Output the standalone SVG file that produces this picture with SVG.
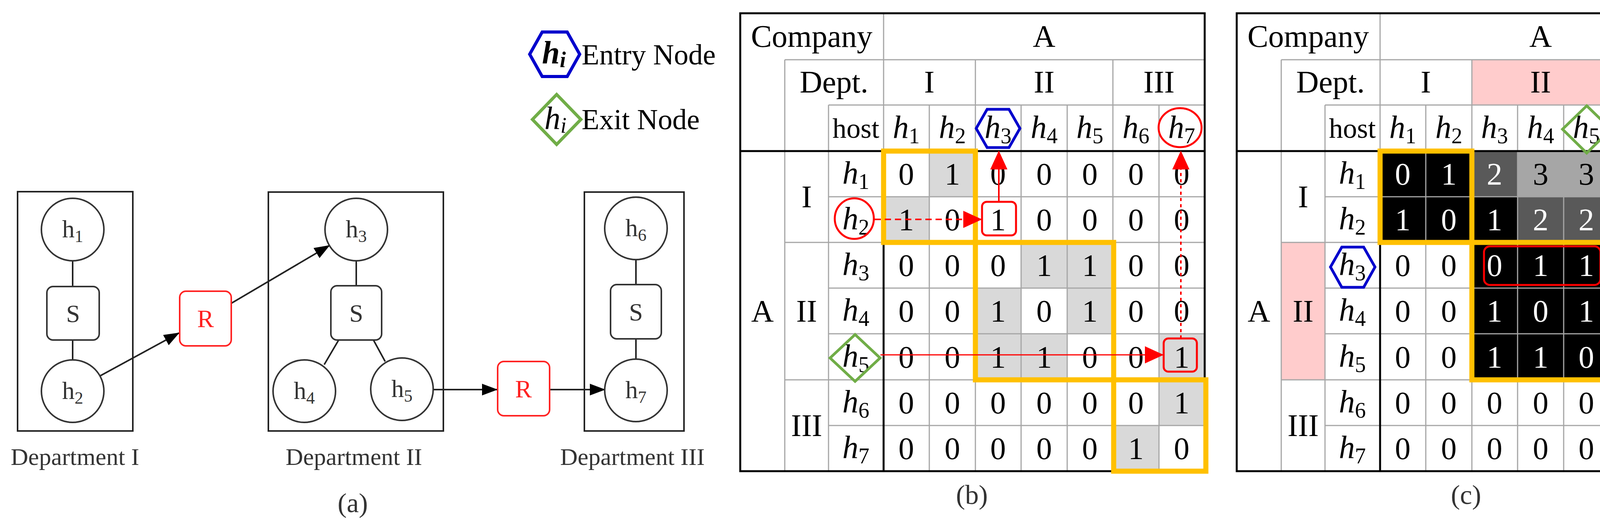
<svg xmlns="http://www.w3.org/2000/svg" width="4392" height="1350" viewBox="0 0 4392 1350">
<style>
text{font-family:"Liberation Serif","DejaVu Serif",serif;fill:#000}
.a{stroke:#333;stroke-width:4;fill:#fff}
.al{stroke:#222;stroke-width:4;fill:none}
.r{stroke:#f22;stroke-width:4;fill:#fff}
.lbl{font-size:62px;text-anchor:middle;fill:#333}
.in{font-size:64px;text-anchor:middle;fill:#333}
.sub{font-size:44px}
.g{stroke:#a6a6a6;stroke-width:3;fill:none}
.k{stroke:#000;stroke-width:5;fill:none}
.t{font-size:80px;text-anchor:middle}
.h{font-size:82px;text-anchor:middle}
.hs{font-size:56px;font-style:normal}
.n{font-size:80px;text-anchor:middle}
.w{fill:#fff}
.o{stroke:#FFC000;stroke-width:13;fill:none}
.red{stroke:#f00;stroke-width:5;fill:none}
.hex{stroke:#0000cc;stroke-width:7;fill:none}
.dia{stroke:#70ad47;stroke-width:7;fill:none}
.cap{font-size:70px;text-anchor:middle;fill:#333}
</style>
<defs>
<marker id="ab" markerWidth="40" markerHeight="30" refX="38" refY="15" orient="auto" markerUnits="userSpaceOnUse"><path d="M0,0 L40,15 L0,30 Z" fill="#000"/></marker>
<marker id="ar" markerWidth="48" markerHeight="44" refX="46" refY="22" orient="auto" markerUnits="userSpaceOnUse"><path d="M0,0 L48,22 L0,44 Z" fill="#f00"/></marker>
</defs>

<!-- (a) -->
<g id="deptI"><rect x="45" y="491" width="295" height="613" class="al"/><text x="192" y="1191" class="lbl">Department I</text></g>
<g id="deptII"><rect x="687" y="492" width="448" height="612" class="al"/><text x="906" y="1191" class="lbl">Department II</text></g>
<g id="deptIII"><rect x="1496" y="492" width="255" height="612" class="al"/><text x="1619" y="1191" class="lbl">Department III</text></g>
<g id="conn-a">
<line x1="186" y1="668" x2="186" y2="734" class="al"/>
<line x1="186" y1="871" x2="186" y2="922" class="al"/>
<line x1="912" y1="668" x2="912" y2="732" class="al"/>
<line x1="867" y1="871" x2="830" y2="934" class="al"/>
<line x1="956" y1="871" x2="986" y2="926" class="al"/>
<line x1="1628" y1="665" x2="1628" y2="729" class="al"/>
<line x1="1628" y1="868" x2="1628" y2="920" class="al"/>
<line x1="256" y1="963" x2="458" y2="853" class="al" marker-end="url(#ab)"/>
<line x1="592" y1="777" x2="843" y2="629" class="al" marker-end="url(#ab)"/>
<line x1="1109" y1="998" x2="1272" y2="998" class="al" marker-end="url(#ab)"/>
<line x1="1407" y1="998" x2="1548" y2="998" class="al" marker-end="url(#ab)"/>
</g>
<g id="h1a"><circle cx="186" cy="588" r="80" class="a"/><text x="186" y="608" class="in">h<tspan class="sub" dy="12">1</tspan></text></g>
<g id="s1"><rect x="120" y="734" width="134" height="137" rx="16" class="a"/><text x="187" y="825" class="in">S</text></g>
<g id="h2a"><circle cx="186" cy="1002" r="80" class="a"/><text x="186" y="1022" class="in">h<tspan class="sub" dy="12">2</tspan></text></g>
<g id="r1"><rect x="460" y="746" width="132" height="140" rx="16" class="r"/><text x="526" y="838" class="in" style="fill:#f22">R</text></g>
<g id="h3a"><circle cx="912" cy="588" r="80" class="a"/><text x="912" y="608" class="in">h<tspan class="sub" dy="12">3</tspan></text></g>
<g id="s2"><rect x="847" y="732" width="130" height="139" rx="16" class="a"/><text x="912" y="824" class="in">S</text></g>
<g id="h4a"><circle cx="779" cy="1002" r="80" class="a"/><text x="779" y="1022" class="in">h<tspan class="sub" dy="12">4</tspan></text></g>
<g id="h5a"><circle cx="1029" cy="997" r="80" class="a"/><text x="1029" y="1017" class="in">h<tspan class="sub" dy="12">5</tspan></text></g>
<g id="r2"><rect x="1274" y="926" width="133" height="139" rx="16" class="r"/><text x="1340" y="1018" class="in" style="fill:#f22">R</text></g>
<g id="h6a"><circle cx="1628" cy="585" r="80" class="a"/><text x="1628" y="605" class="in">h<tspan class="sub" dy="12">6</tspan></text></g>
<g id="s3"><rect x="1563" y="729" width="130" height="139" rx="16" class="a"/><text x="1628" y="821" class="in">S</text></g>
<g id="h7a"><circle cx="1628" cy="1000" r="80" class="a"/><text x="1628" y="1020" class="in">h<tspan class="sub" dy="12">7</tspan></text></g>
<text x="903" y="1312" class="cap">(a)</text>

<!-- legend -->
<g id="legend">
<polygon points="1356,139 1388,82 1452,82 1484,139 1452,196 1388,196" class="hex" style="stroke-width:8"/>
<text x="1418" y="162" class="h" style="font-weight:bold;font-style:italic">h<tspan class="hs" dy="10" style="font-style:italic">i</tspan></text>
<text x="1489" y="165" style="font-size:74px">Entry Node</text>
<polygon points="1363,306 1425,242 1487,306 1425,370" class="dia" style="stroke-width:8"/>
<text x="1422" y="330" class="h" style="font-style:italic">h<tspan class="hs" dy="10" style="font-style:italic">i</tspan></text>
<text x="1489" y="331" style="font-size:74px">Exit Node</text>
</g>

<!-- (b) table -->
<g id="tableB">
<g id="fillsB" fill="#d9d9d9">
<rect x="2379" y="387" width="118" height="117"/><rect x="2262" y="504" width="117" height="117"/>
<rect x="2614" y="621" width="118" height="117"/><rect x="2732" y="621" width="117" height="117"/>
<rect x="2497" y="738" width="117" height="117"/><rect x="2732" y="738" width="117" height="117"/>
<rect x="2497" y="855" width="117" height="118"/><rect x="2614" y="855" width="118" height="118"/>
<rect x="2967" y="855" width="117" height="118"/>
<rect x="2967" y="973" width="117" height="117"/><rect x="2849" y="1090" width="118" height="117"/>
</g>
<g id="gridB">
<path class="g" d="M2009,153H3084M2121,269H3084M2121,504H3084M2009,621H3084M2121,738H3084M2121,855H3084M2009,973H3084M2121,1090H3084M2009,153V1207M2121,269V1207M2262,34V387M2497,153V1207M2849,153V1207M2379,269V1207M2614,269V1207M2732,269V1207M2967,269V1207"/>
<path class="k" d="M1895,387H3084M2262,387V1207"/>
<rect x="1895" y="34" width="1189" height="1173" class="k"/>
</g>
<g id="headB">
<text x="2078" y="120" class="t">Company</text><text x="2673" y="120" class="t">A</text>
<text x="2135" y="237" class="t">Dept.</text><text x="2379" y="237" class="t">I</text><text x="2673" y="237" class="t">II</text><text x="2967" y="237" class="t">III</text>
<text x="2191" y="353" class="t" style="font-size:72px">host</text>
<g class="h" font-style="italic">
<text x="2320" y="353">h<tspan class="hs" dy="14">1</tspan></text><text x="2438" y="353">h<tspan class="hs" dy="14">2</tspan></text>
<text x="2555" y="353">h<tspan class="hs" dy="14">3</tspan></text><text x="2673" y="353">h<tspan class="hs" dy="14">4</tspan></text>
<text x="2790" y="353">h<tspan class="hs" dy="14">5</tspan></text><text x="2908" y="353">h<tspan class="hs" dy="14">6</tspan></text>
<text x="3025" y="353">h<tspan class="hs" dy="14">7</tspan></text>
</g>
<text x="1952" y="824" class="t">A</text>
<text x="2065" y="531" class="t">I</text><text x="2065" y="824" class="t">II</text><text x="2065" y="1117" class="t">III</text>
<g class="h" font-style="italic">
<text x="2191" y="470">h<tspan class="hs" dy="14">1</tspan></text><text x="2191" y="587">h<tspan class="hs" dy="14">2</tspan></text>
<text x="2191" y="704">h<tspan class="hs" dy="14">3</tspan></text><text x="2191" y="821">h<tspan class="hs" dy="14">4</tspan></text>
<text x="2191" y="939">h<tspan class="hs" dy="14">5</tspan></text><text x="2191" y="1056">h<tspan class="hs" dy="14">6</tspan></text>
<text x="2191" y="1173">h<tspan class="hs" dy="14">7</tspan></text>
</g>
</g>
<g id="valsB" class="n">
<text x="2320" y="473">0</text><text x="2438" y="473">1</text><text x="2555" y="473">0</text><text x="2673" y="473">0</text><text x="2790" y="473">0</text><text x="2908" y="473">0</text><text x="3025" y="473">0</text>
<text x="2320" y="590">1</text><text x="2438" y="590">0</text><text x="2555" y="590">1</text><text x="2673" y="590">0</text><text x="2790" y="590">0</text><text x="2908" y="590">0</text><text x="3025" y="590">0</text>
<text x="2320" y="707">0</text><text x="2438" y="707">0</text><text x="2555" y="707">0</text><text x="2673" y="707">1</text><text x="2790" y="707">1</text><text x="2908" y="707">0</text><text x="3025" y="707">0</text>
<text x="2320" y="824">0</text><text x="2438" y="824">0</text><text x="2555" y="824">1</text><text x="2673" y="824">0</text><text x="2790" y="824">1</text><text x="2908" y="824">0</text><text x="3025" y="824">0</text>
<text x="2320" y="942">0</text><text x="2438" y="942">0</text><text x="2555" y="942">1</text><text x="2673" y="942">1</text><text x="2790" y="942">0</text><text x="2908" y="942">0</text><text x="3025" y="942">1</text>
<text x="2320" y="1059">0</text><text x="2438" y="1059">0</text><text x="2555" y="1059">0</text><text x="2673" y="1059">0</text><text x="2790" y="1059">0</text><text x="2908" y="1059">0</text><text x="3025" y="1059">1</text>
<text x="2320" y="1176">0</text><text x="2438" y="1176">0</text><text x="2555" y="1176">0</text><text x="2673" y="1176">0</text><text x="2790" y="1176">0</text><text x="2908" y="1176">1</text><text x="3025" y="1176">0</text>
</g>
<g id="blocksB">
<rect x="2262" y="387" width="235" height="234" class="o"/>
<rect x="2497" y="621" width="354" height="352" class="o"/>
<rect x="2851" y="973" width="236" height="234" class="o"/>
</g>
<g id="marksB">
<ellipse cx="2187" cy="560" rx="50" ry="52" class="red"/>
<rect x="2514" y="517" width="87" height="86" rx="12" class="red"/>
<polygon points="2499,329 2527,280 2583,280 2611,329 2583,378 2527,378" class="hex"/>
<polygon points="2125,917 2189,857 2253,917 2189,977" class="dia"/>
<rect x="2979" y="867" width="85" height="85" rx="12" class="red"/>
<ellipse cx="3021" cy="327" rx="55" ry="50" class="red"/>
</g>
<g id="conn-b">
<line x1="2239" y1="562" x2="2512" y2="562" stroke="#f00" stroke-width="4" stroke-dasharray="16 10" marker-end="url(#ar)"/>
<line x1="2557" y1="517" x2="2557" y2="388" stroke="#f00" stroke-width="4" marker-end="url(#ar)"/>
<line x1="2254" y1="909" x2="2977" y2="909" stroke="#f00" stroke-width="3" marker-end="url(#ar)"/>
<line x1="3023" y1="867" x2="3023" y2="388" stroke="#f00" stroke-width="4" stroke-dasharray="8 8" marker-end="url(#ar)"/>
</g>
</g>
<text x="2488" y="1291" class="cap">(b)</text>

<!-- (c) table -->
<g id="tableC" transform="translate(1271,0)">
<g id="fillsC">
<rect x="2497" y="153" width="352" height="116" fill="#ffcccc"/>
<rect x="2009" y="621" width="112" height="352" fill="#ffcccc"/>
<rect x="2262" y="387" width="235" height="234" fill="#000"/>
<rect x="2497" y="387" width="117" height="117" fill="#595959"/>
<rect x="2614" y="387" width="235" height="117" fill="#a6a6a6"/>
<rect x="2849" y="387" width="118" height="117" fill="#e1e5e5"/>
<rect x="2967" y="387" width="117" height="117" fill="#c1bdbd"/>
<rect x="2497" y="504" width="117" height="117" fill="#000"/>
<rect x="2614" y="504" width="235" height="117" fill="#595959"/>
<rect x="2849" y="504" width="118" height="117" fill="#c1bdbd"/>
<rect x="2967" y="504" width="117" height="117" fill="#a6a6a6"/>
<rect x="2497" y="621" width="352" height="352" fill="#000"/>
<rect x="2849" y="621" width="118" height="234" fill="#a6a6a6"/>
<rect x="2967" y="621" width="117" height="234" fill="#595959"/>
<rect x="2849" y="855" width="118" height="118" fill="#595959"/>
<rect x="2967" y="855" width="117" height="118" fill="#000"/>
<rect x="2849" y="973" width="235" height="234" fill="#000"/>
</g>
<g id="gridC">
<path class="g" d="M2009,153H3084M2121,269H3084M2121,504H3084M2009,621H3084M2121,738H3084M2121,855H3084M2009,973H3084M2121,1090H3084M2009,153V1207M2121,269V1207M2262,34V387M2497,153V1207M2849,153V1207M2379,269V1207M2614,269V1207M2732,269V1207M2967,269V1207"/>
<path class="k" d="M1895,387H3084M2262,387V1207"/>
<rect x="1895" y="34" width="1189" height="1173" class="k"/>
</g>
<g id="headC">
<text x="2078" y="120" class="t">Company</text><text x="2673" y="120" class="t">A</text>
<text x="2135" y="237" class="t">Dept.</text><text x="2379" y="237" class="t">I</text><text x="2673" y="237" class="t">II</text><text x="2967" y="237" class="t">III</text>
<text x="2191" y="353" class="t" style="font-size:72px">host</text>
<g class="h" font-style="italic">
<text x="2320" y="353">h<tspan class="hs" dy="14">1</tspan></text><text x="2438" y="353">h<tspan class="hs" dy="14">2</tspan></text>
<text x="2555" y="353">h<tspan class="hs" dy="14">3</tspan></text><text x="2673" y="353">h<tspan class="hs" dy="14">4</tspan></text>
<text x="2790" y="353">h<tspan class="hs" dy="14">5</tspan></text><text x="2908" y="353">h<tspan class="hs" dy="14">6</tspan></text>
<text x="3025" y="353">h<tspan class="hs" dy="14">7</tspan></text>
</g>
<text x="1952" y="824" class="t">A</text>
<text x="2065" y="531" class="t">I</text><text x="2065" y="824" class="t">II</text><text x="2065" y="1117" class="t">III</text>
<g class="h" font-style="italic">
<text x="2191" y="470">h<tspan class="hs" dy="14">1</tspan></text><text x="2191" y="587">h<tspan class="hs" dy="14">2</tspan></text>
<text x="2191" y="704">h<tspan class="hs" dy="14">3</tspan></text><text x="2191" y="821">h<tspan class="hs" dy="14">4</tspan></text>
<text x="2191" y="939">h<tspan class="hs" dy="14">5</tspan></text><text x="2191" y="1056">h<tspan class="hs" dy="14">6</tspan></text>
<text x="2191" y="1173">h<tspan class="hs" dy="14">7</tspan></text>
</g>
</g>
<g id="valsC" class="n">
<text x="2320" y="473" class="w">0</text><text x="2438" y="473" class="w">1</text><text x="2555" y="473" class="w">2</text><text x="2673" y="473">3</text><text x="2790" y="473">3</text><text x="2908" y="473">5</text><text x="3025" y="473">4</text>
<text x="2320" y="590" class="w">1</text><text x="2438" y="590" class="w">0</text><text x="2555" y="590" class="w">1</text><text x="2673" y="590" class="w">2</text><text x="2790" y="590" class="w">2</text><text x="2908" y="590">4</text><text x="3025" y="590">3</text>
<text x="2320" y="707">0</text><text x="2438" y="707">0</text><text x="2555" y="707" class="w">0</text><text x="2673" y="707" class="w">1</text><text x="2790" y="707" class="w">1</text><text x="2908" y="707">3</text><text x="3025" y="707" class="w">2</text>
<text x="2320" y="824">0</text><text x="2438" y="824">0</text><text x="2555" y="824" class="w">1</text><text x="2673" y="824" class="w">0</text><text x="2790" y="824" class="w">1</text><text x="2908" y="824">3</text><text x="3025" y="824" class="w">2</text>
<text x="2320" y="942">0</text><text x="2438" y="942">0</text><text x="2555" y="942" class="w">1</text><text x="2673" y="942" class="w">1</text><text x="2790" y="942" class="w">0</text><text x="2908" y="942" class="w">2</text><text x="3025" y="942" class="w">1</text>
<text x="2320" y="1059">0</text><text x="2438" y="1059">0</text><text x="2555" y="1059">0</text><text x="2673" y="1059">0</text><text x="2790" y="1059">0</text><text x="2908" y="1059" class="w">0</text><text x="3025" y="1059" class="w">1</text>
<text x="2320" y="1176">0</text><text x="2438" y="1176">0</text><text x="2555" y="1176">0</text><text x="2673" y="1176">0</text><text x="2790" y="1176">0</text><text x="2908" y="1176" class="w">1</text><text x="3025" y="1176" class="w">0</text>
</g>
<g id="blocksC">
<rect x="2262" y="387" width="235" height="234" class="o"/>
<rect x="2497" y="621" width="352" height="352" class="o"/>
<rect x="2849" y="973" width="238" height="234" class="o"/>
</g>
<g id="marksC">
<rect x="2528" y="631" width="298" height="99" rx="15" class="red"/>
<polygon points="2135,684 2164,633 2220,633 2249,684 2220,736 2164,736" class="hex"/>
<polygon points="2729,331 2791,271 2853,331 2791,392" class="dia"/>
</g>
</g>
<text x="3753" y="1291" class="cap">(c)</text>
</svg>
